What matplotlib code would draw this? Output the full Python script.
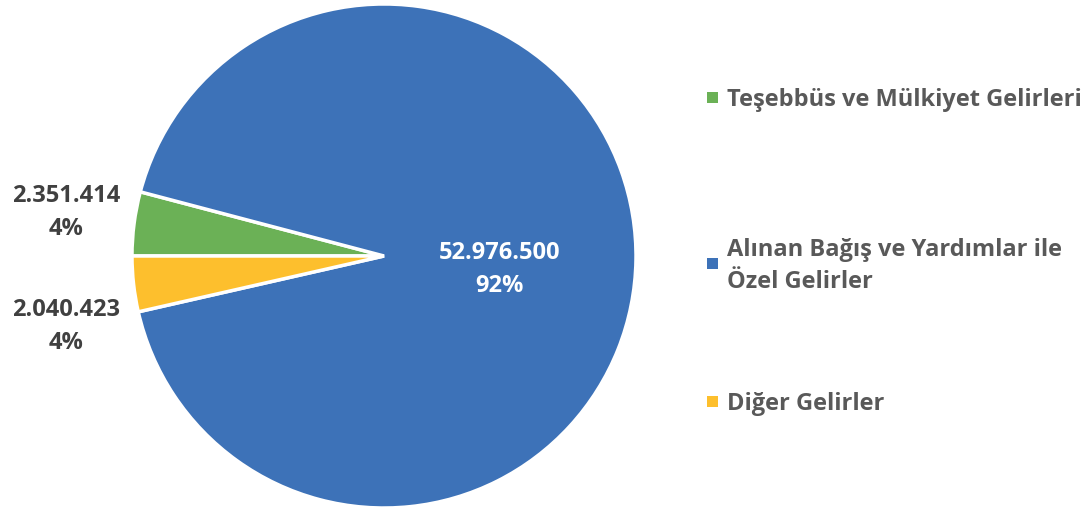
import numpy as np
import matplotlib.pyplot as plt
from matplotlib.patches import Rectangle

plt.rcParams['font.family'] = ['Open Sans', 'DejaVu Sans']

labels = ["Teşebbüs ve Mülkiyet Gelirleri",
          "Alınan Bağış ve Yardımlar ile\nÖzel Gelirler",
          "Diğer Gelirler"]
values = [2351414, 52976500, 2040423]
pct_text = ["4%", "92%", "4%"]
colors = ["#6BB156", "#3D72B8", "#FDBF2D"]

W, H = 1089, 511

def fmt(v):
    return f"{v:,}".replace(",", ".")

fig = plt.figure(figsize=(W / 100, H / 100), dpi=100)
R = 252
ax = fig.add_axes([(384 - R) / W, (H - 256 - R) / H, 2 * R / W, 2 * R / H])

wedges, _ = ax.pie(values, colors=colors, startangle=180, counterclock=False,
                   wedgeprops=dict(edgecolor="white", linewidth=2.5), radius=1)
ax.set_xlim(-1, 1)
ax.set_ylim(-1, 1)
ax.set_aspect("equal")
ax.axis("off")

fs = 17
# value labels: green and yellow outside on the left, blue inside
label_pos = [(-1.26, 0.174), (0.46, -0.054), (-1.26, -0.28)]
label_col = ["#404040", "white", "#404040"]
for v, p, xy, c in zip(values, pct_text, label_pos, label_col):
    ax.text(xy[0], xy[1], fmt(v) + "\n" + p, ha="center", va="center",
            fontsize=fs, fontweight="bold", color=c, linespacing=1.5)

# legend drawn by hand (Excel-like spacing)
leg_y = [100, 266, 404]
for lab, c, y in zip(labels, colors, leg_y):
    fig.patches.append(Rectangle(((707) / W, 1 - (y + 3) / H), 11 / W, 11 / H,
                                 transform=fig.transFigure, facecolor=c, edgecolor="none"))
    fig.text(727 / W, 1 - y / H, lab, ha="left", va="center", fontsize=fs,
             fontweight="bold", color="#595959", linespacing=1.4)

fig.savefig("out.png", dpi=100)
